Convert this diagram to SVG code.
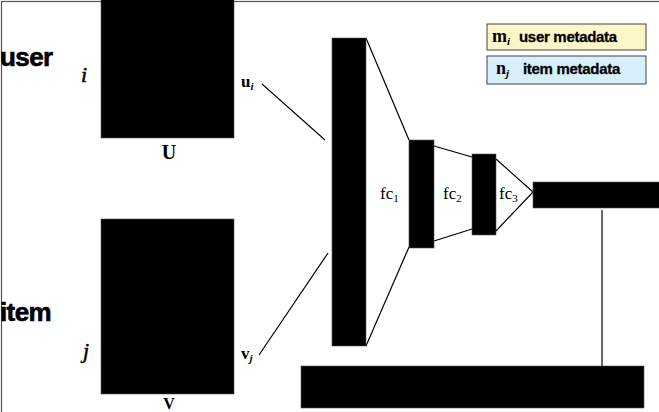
<svg xmlns="http://www.w3.org/2000/svg" width="659" height="412" viewBox="0 0 659 412">
<style>
.blk{fill:#000;stroke:#555;stroke-width:0.6}
.ln{stroke:#000;stroke-width:1.2;fill:none}
.big{font-family:"Liberation Sans",Arial,sans-serif;font-weight:bold;font-size:26px;letter-spacing:-0.6px;fill:#000;stroke:#000;stroke-width:0.6}
.leg{font-family:"Liberation Sans",Arial,sans-serif;font-weight:bold;font-size:15px;letter-spacing:-0.3px;fill:#000;stroke:#000;stroke-width:0.3}
.m{font-family:"Liberation Serif","Times New Roman",serif;fill:#000}
</style>
<rect x="1.5" y="1.5" width="700" height="450" fill="#fff" stroke="#555" stroke-width="1.2"/>
<g id="connectors">
<line class="ln" x1="262" y1="84" x2="325" y2="140"/>
<line class="ln" x1="259" y1="355" x2="328" y2="253"/>
<line class="ln" x1="366" y1="38" x2="409" y2="140"/>
<line class="ln" x1="366" y1="346" x2="409" y2="247"/>
<line class="ln" x1="434" y1="146" x2="472" y2="157"/>
<line class="ln" x1="434" y1="241" x2="472" y2="229"/>
<line class="ln" x1="496" y1="159" x2="533" y2="192"/>
<line class="ln" x1="496" y1="231" x2="533" y2="192"/>
<line class="ln" x1="602" y1="210" x2="602" y2="366" stroke="#333"/>
</g>
<g id="user-label"><text class="big" x="0" y="66">user</text></g>
<g id="item-label"><text class="big" x="0" y="321">item</text></g>
<g id="U">
<rect class="blk" x="101" y="-2" width="133" height="140"/>
<text class="m" x="81" y="82" font-size="22" font-style="italic" stroke="#000" stroke-width="0.5">i</text>
<text class="m" x="241" y="87" font-size="17" font-weight="bold">u<tspan font-size="11" font-style="italic" dy="3">i</tspan></text>
<text class="m" x="169" y="159" font-size="20" font-weight="bold" text-anchor="middle">U</text>
</g>
<g id="V">
<rect class="blk" x="101" y="219" width="133" height="175"/>
<text class="m" x="83" y="358" font-size="22" font-style="italic" stroke="#000" stroke-width="0.5">j</text>
<text class="m" x="241" y="359" font-size="17" font-weight="bold">v<tspan font-size="11" font-style="italic" dy="3">j</tspan></text>
<text class="m" x="169" y="409" font-size="16" font-weight="bold" text-anchor="middle">V</text>
</g>
<g id="fc1">
<rect class="blk" x="332" y="38" width="34" height="308"/>
<text class="m" x="380" y="199" font-size="17">fc<tspan font-size="11" dy="3">1</tspan></text>
</g>
<g id="fc2">
<rect class="blk" x="409" y="140" width="25" height="108"/>
<text class="m" x="443" y="199" font-size="17">fc<tspan font-size="11" dy="3">2</tspan></text>
</g>
<g id="fc3">
<rect class="blk" x="472" y="154" width="24" height="81"/>
<text class="m" x="499" y="199" font-size="17">fc<tspan font-size="11" dy="3">3</tspan></text>
</g>
<g id="output">
<rect class="blk" x="533" y="182" width="130" height="26"/>
</g>
<g id="bottom">
<rect class="blk" x="301" y="366" width="343" height="42"/>
</g>
<g id="legend-user">
<rect x="487" y="24" width="159" height="26" fill="#fdf6c9" stroke="#444" stroke-width="1"/>
<text class="m" x="492" y="42" font-size="18" font-weight="bold">m<tspan font-size="11" font-style="italic" dy="3">i</tspan></text>
<text class="leg" x="519" y="42">user metadata</text>
</g>
<g id="legend-item">
<rect x="487" y="56" width="159" height="28" fill="#d7effb" stroke="#444" stroke-width="1"/>
<text class="m" x="496" y="74" font-size="18" font-weight="bold">n<tspan font-size="11" font-style="italic" dy="3">j</tspan></text>
<text class="leg" x="523" y="74">item metadata</text>
</g>
</svg>
